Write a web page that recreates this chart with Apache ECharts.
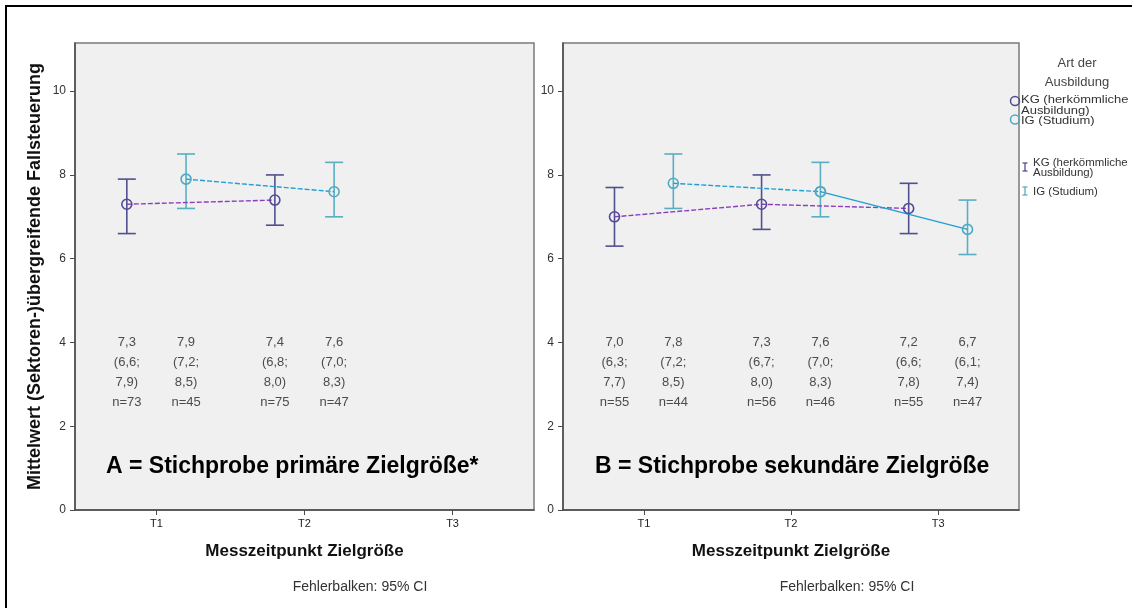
<!DOCTYPE html>
<html>
<head>
<meta charset="utf-8">
<script src="https://cdn.jsdelivr.net/npm/echarts@6/dist/echarts.min.js"></script>
<style>
html,body{margin:0;padding:0;background:#fff;}
#chart{width:1132px;height:608px;}
</style>
</head>
<body>
<div id="chart"></div>
<script>
// ---- data ----
const periods = ['T1', 'T2', 'T3'];
const yTicks = [0, 2, 4, 6, 8, 10];

// Panel A (primäre Zielgröße)
const kgA_mean = [7.3, 7.4];
const kgA_lo   = [6.6, 6.8];
const kgA_hi   = [7.9, 8.0];
const kgA_n    = [73, 75];
const igA_mean = [7.9, 7.6];
const igA_lo   = [7.2, 7.0];
const igA_hi   = [8.5, 8.3];
const igA_n    = [45, 47];

// Panel B (sekundäre Zielgröße)
const kgB_mean = [7.0, 7.3, 7.2];
const kgB_lo   = [6.3, 6.7, 6.6];
const kgB_hi   = [7.7, 8.0, 7.8];
const kgB_n    = [55, 56, 55];
const igB_mean = [7.8, 7.6, 6.7];
const igB_lo   = [7.2, 7.0, 6.1];
const igB_hi   = [8.5, 8.3, 7.4];
const igB_n    = [44, 46, 47];

const legendTitle = 'Art der\nAusbildung';
const groupNames = ['KG (herkömmliche\nAusbildung)', 'IG (Studium)'];
const panelTitles = ['A = Stichprobe primäre Zielgröße*', 'B = Stichprobe sekundäre Zielgröße'];
const yName = 'Mittelwert (Sektoren-)übergreifende Fallsteuerung';
const xName = 'Messzeitpunkt Zielgröße';
const noteText = 'Fehlerbalken: 95% CI';
const annotY = 3.28;

// ---- styles ----
const FONT = 'Arial, "Liberation Sans", sans-serif';
const KG_LINE = '#8b3fbf', KG_MARK = '#4f4a96', KG_ERR = '#51508e';
const IG_LINE = '#1f9fd4', IG_MARK = '#4eaac2', IG_ERR = '#5aaec2';
const OFF = 0.2;

const fmt = v => v.toFixed(1).replace('.', ',');
const pts = (means, off) => means.map((m, i) => [i + 1 + off, m]);
const errs = (lo, hi, off) => lo.map((l, i) => [i + 1 + off, l, hi[i]]);
const ann = (means, lo, hi, n, off) => means.map((m, i) => [i + 1 + off, annotY, m, lo[i], hi[i], n[i]]);

function errSeries(idx, data, color) {
  return {
    type: 'custom', xAxisIndex: idx, yAxisIndex: idx, data: data, z: 2,
    encode: { x: 0, y: [1, 2] },
    renderItem: function (params, api) {
      const x = api.value(0);
      const pLo = api.coord([x, api.value(1)]);
      const pHi = api.coord([x, api.value(2)]);
      const w = 9;
      const st = { stroke: color, lineWidth: 1.6 };
      return {
        type: 'group', children: [
          { type: 'line', shape: { x1: pLo[0], y1: pLo[1], x2: pHi[0], y2: pHi[1] }, style: st },
          { type: 'line', shape: { x1: pLo[0] - w, y1: pLo[1], x2: pLo[0] + w, y2: pLo[1] }, style: st },
          { type: 'line', shape: { x1: pHi[0] - w, y1: pHi[1], x2: pHi[0] + w, y2: pHi[1] }, style: st }
        ]
      };
    }
  };
}
function lineSeries(idx, data, lineColor, markColor, dashed) {
  return {
    type: 'line', xAxisIndex: idx, yAxisIndex: idx, data: data, z: 3,
    symbol: 'circle', symbolSize: 10,
    itemStyle: { color: 'rgba(0,0,0,0)', borderColor: markColor, borderWidth: 1.6 },
    lineStyle: { color: lineColor, width: 1.4, type: dashed ? [5, 2] : 'solid' },
    emphasis: { disabled: true }, silent: true, animation: false
  };
}
function annSeries(idx, data) {
  return {
    type: 'scatter', xAxisIndex: idx, yAxisIndex: idx, data: data, symbolSize: 1,
    itemStyle: { color: 'rgba(0,0,0,0)' }, silent: true,
    encode: { x: 0, y: 1 },
    label: {
      show: true, position: 'inside', fontFamily: FONT, fontSize: 13, color: '#222', lineHeight: 20,
      formatter: p => fmt(p.value[2]) + '\n(' + fmt(p.value[3]) + ';\n' + fmt(p.value[4]) + ')\nn=' + p.value[5]
    }
  };
}

const grids = [
  { left: 75, top: 43, width: 459, height: 467 },
  { left: 563, top: 43, width: 456, height: 467 }
];
function xAx(i) {
  return {
    type: 'value', gridIndex: i, min: 0.45, max: 3.55, name: xName, nameLocation: 'middle', nameGap: 33,
    nameTextStyle: { fontFamily: FONT, fontSize: 17, fontWeight: 'bold', color: '#111' },
    axisLine: { show: true, lineStyle: { color: '#4a4a4a', width: 1.5 } },
    axisTick: { show: true, length: 5, lineStyle: { color: '#4a4a4a' }, customValues: [1, 2, 3] },
    axisLabel: { customValues: [1, 2, 3], formatter: v => periods[Math.round(v) - 1], fontFamily: FONT, fontSize: 11, color: '#222', margin: 8 },
    splitLine: { show: false }
  };
}
function yAx(i) {
  return {
    type: 'value', gridIndex: i, min: 0, max: 11.15,
    name: i === 0 ? yName : '', nameLocation: 'middle', nameGap: 31,
    nameTextStyle: { fontFamily: FONT, fontSize: 18, fontWeight: 'bold', color: '#111' },
    axisLine: { show: true, lineStyle: { color: '#4a4a4a', width: 1.5 } },
    axisTick: { show: true, length: 5, lineStyle: { color: '#4a4a4a' }, customValues: yTicks },
    axisLabel: { customValues: yTicks, fontFamily: FONT, fontSize: 12, color: '#333', margin: 9 },
    splitLine: { show: false }
  };
}

const chart = echarts.init(document.getElementById('chart'), null, { renderer: 'canvas' });
const txt = (x, y, text, opts, sx) => ({ type: 'text', x: x, y: y, scaleX: sx || 1, silent: true, style: Object.assign({ text: text, font: '11px ' + FONT, fill: '#333' }, opts || {}) });
const errIcon = (x, y, color) => ({
  type: 'group', silent: true, children: [
    { type: 'line', shape: { x1: x, y1: y - 4, x2: x, y2: y + 4 }, style: { stroke: color, lineWidth: 1.3 } },
    { type: 'line', shape: { x1: x - 2.5, y1: y - 4, x2: x + 2.5, y2: y - 4 }, style: { stroke: color, lineWidth: 1.3 } },
    { type: 'line', shape: { x1: x - 2.5, y1: y + 4, x2: x + 2.5, y2: y + 4 }, style: { stroke: color, lineWidth: 1.3 } }
  ]
});
const LEG = { font: '11px ' + FONT, fill: '#333', verticalAlign: 'middle', lineHeight: 10.5 };

chart.setOption({
  animation: false,
  backgroundColor: '#fff',
  grid: grids.map(g => Object.assign({ show: true, backgroundColor: '#f0f0f0', borderColor: '#7a7a7a', borderWidth: 1.5, containLabel: false }, g)),
  xAxis: [xAx(0), xAx(1)],
  yAxis: [yAx(0), yAx(1)],
  series: [
    errSeries(0, errs(kgA_lo, kgA_hi, -OFF), KG_ERR),
    errSeries(0, errs(igA_lo, igA_hi, OFF), IG_ERR),
    lineSeries(0, pts(kgA_mean, -OFF), KG_LINE, KG_MARK, true),
    lineSeries(0, pts(igA_mean, OFF), IG_LINE, IG_MARK, true),
    annSeries(0, ann(kgA_mean, kgA_lo, kgA_hi, kgA_n, -OFF)),
    annSeries(0, ann(igA_mean, igA_lo, igA_hi, igA_n, OFF)),

    errSeries(1, errs(kgB_lo, kgB_hi, -OFF), KG_ERR),
    errSeries(1, errs(igB_lo, igB_hi, OFF), IG_ERR),
    lineSeries(1, pts(kgB_mean, -OFF), KG_LINE, KG_MARK, true),
    lineSeries(1, pts(igB_mean, OFF).slice(0, 2), IG_LINE, IG_MARK, true),
    lineSeries(1, pts(igB_mean, OFF).slice(1), IG_LINE, IG_MARK, false),
    annSeries(1, ann(kgB_mean, kgB_lo, kgB_hi, kgB_n, -OFF)),
    annSeries(1, ann(igB_mean, igB_lo, igB_hi, igB_n, OFF))
  ],
  graphic: [
    { type: 'rect', silent: true, shape: { x: 6, y: 6, width: 1140, height: 620 }, style: { fill: 'none', stroke: '#000', lineWidth: 2 } },
    txt(106, 467, panelTitles[0], { font: 'bold 23px ' + FONT, fill: '#000', verticalAlign: 'middle' }),
    txt(595, 467, panelTitles[1], { font: 'bold 23px ' + FONT, fill: '#000', verticalAlign: 'middle' }),
    txt(360, 587, noteText, { font: '14px ' + FONT, fill: '#333', align: 'center', verticalAlign: 'middle' }),
    txt(847, 587, noteText, { font: '14px ' + FONT, fill: '#333', align: 'center', verticalAlign: 'middle' }),
    txt(1077, 72.5, legendTitle, { font: '13px ' + FONT, fill: '#444', align: 'center', verticalAlign: 'middle', lineHeight: 19 }),
    { type: 'circle', silent: true, shape: { cx: 1015, cy: 101, r: 4.5 }, style: { fill: 'none', stroke: KG_MARK, lineWidth: 1.5 } },
    { type: 'circle', silent: true, shape: { cx: 1015, cy: 119.5, r: 4.5 }, style: { fill: 'none', stroke: IG_MARK, lineWidth: 1.5 } },
    txt(1021, 105.5, groupNames[0], LEG, 1.18),
    txt(1021, 120.5, groupNames[1], LEG, 1.18),
    errIcon(1025, 167, KG_ERR),
    errIcon(1025, 191, IG_ERR),
    txt(1033, 168, groupNames[0], LEG, 1.04),
    txt(1033, 191.5, groupNames[1], LEG, 1.04)
  ]
});
</script>
</body>
</html>
